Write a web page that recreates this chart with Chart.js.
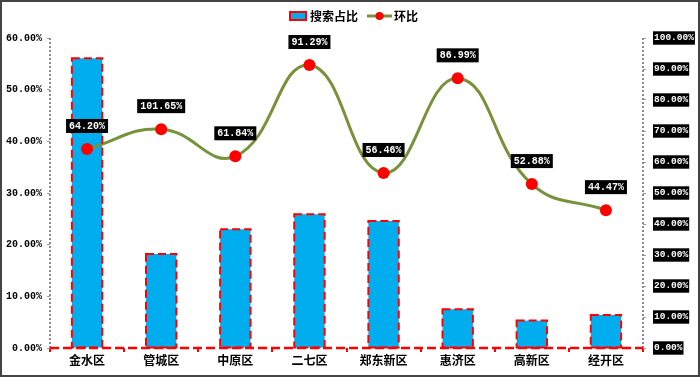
<!DOCTYPE html>
<html>
<head>
<meta charset="utf-8">
<script src="https://cdn.jsdelivr.net/npm/chart.js@4.4.0/dist/chart.umd.min.js"></script>
<style>
html,body{margin:0;padding:0;background:#fff;}
#wrap{width:700px;height:377px;position:relative;}
</style>
</head>
<body>
<div id="wrap"><canvas id="c" width="700" height="377"></canvas></div>
<script>
const categories = ['金水区','管城区','中原区','二七区','郑东新区','惠济区','高新区','经开区'];
const searchShare = [56.1, 18.2, 23.0, 25.9, 24.6, 7.5, 5.3, 6.4];
const momPlotted = [64.2, 70.6, 61.84, 91.29, 56.46, 86.99, 52.88, 44.47];
const momLabels = ['64.20%','101.65%','61.84%','91.29%','56.46%','86.99%','52.88%','44.47%'];
const leftTicks = [0,10,20,30,40,50,60];
const rightTicks = [0,10,20,30,40,50,60,70,80,90,100];

const BAR_FILL = '#00AEEF';
const RED = '#FF0000';
const OLIVE = '#77923A';
const MONO = '"Liberation Mono","DejaVu Sans Mono",monospace';
const CJK = '"Noto Sans CJK SC","Noto Sans",sans-serif';

const customPlugin = {
  id: 'custom',
  beforeDatasetsDraw(chart) {
    const ctx = chart.ctx;
    const a = chart.chartArea;
    ctx.save();
    // dotted grey vertical axes
    ctx.strokeStyle = '#8a8a8a';
    ctx.lineWidth = 2;
    ctx.setLineDash([2,2]);
    ctx.beginPath();
    ctx.moveTo(a.left, a.top); ctx.lineTo(a.left, a.bottom);
    ctx.moveTo(a.right, a.top); ctx.lineTo(a.right, a.bottom);
    ctx.stroke();
    ctx.restore();
  },
  afterDatasetsDraw(chart) {
    const ctx = chart.ctx;
    const a = chart.chartArea;
    // dashed red outlines around bars
    const barMeta = chart.getDatasetMeta(0);
    ctx.save();
    ctx.strokeStyle = RED;
    ctx.lineWidth = 2;
    ctx.setLineDash([8,4]);
    barMeta.data.forEach(el => {
      const {x, y, base, width} = el.getProps(['x','y','base','width'], true);
      ctx.strokeRect(x - width/2, y, width, base - y);
    });
    // dashed red category axis
    ctx.lineWidth = 2.5;
    ctx.setLineDash([9,4]);
    ctx.beginPath();
    ctx.moveTo(a.left, a.bottom); ctx.lineTo(a.right, a.bottom);
    ctx.stroke();
    ctx.restore();
    // point labels
    const lineMeta = chart.getDatasetMeta(1);
    ctx.save();
    ctx.font = 'bold 10px ' + MONO;
    ctx.textAlign = 'center';
    ctx.textBaseline = 'middle';
    lineMeta.data.forEach((el, i) => {
      const txt = momLabels[i];
      const w = ctx.measureText(txt).width + 6;
      const h = 14;
      const cy = el.y - 23;
      ctx.fillStyle = '#000';
      ctx.fillRect(el.x - w/2, cy - h/2, w, h);
      ctx.fillStyle = '#fff';
      ctx.fillText(txt, el.x, cy + 0.5);
    });
    ctx.restore();
  },
  afterDraw(chart) {
    const ctx = chart.ctx;
    ctx.save();
    // legend
    ctx.font = 'bold 12px ' + CJK;
    ctx.textBaseline = 'middle';
    ctx.textAlign = 'left';
    const ly = 16;
    ctx.fillStyle = BAR_FILL;
    ctx.fillRect(290, ly - 4, 16, 8);
    ctx.strokeStyle = RED;
    ctx.lineWidth = 2;
    ctx.strokeRect(290, ly - 4, 16, 8);
    ctx.fillStyle = '#000';
    ctx.fillText('搜索占比', 310, ly);
    ctx.strokeStyle = OLIVE;
    ctx.lineWidth = 3;
    ctx.beginPath(); ctx.moveTo(367, ly); ctx.lineTo(392, ly); ctx.stroke();
    ctx.fillStyle = RED;
    ctx.beginPath(); ctx.arc(379.5, ly, 4, 0, Math.PI*2); ctx.fill();
    ctx.fillStyle = '#000';
    ctx.fillText('环比', 394, ly);
    // outer border
    ctx.strokeStyle = '#444';
    ctx.lineWidth = 2;
    ctx.strokeRect(1, 1, 698, 375);
    ctx.restore();
  }
};

new Chart(document.getElementById('c'), {
  data: {
    labels: categories,
    datasets: [
      {
        type: 'bar',
        label: '搜索占比',
        data: searchShare,
        backgroundColor: BAR_FILL,
        borderWidth: 0,
        categoryPercentage: 1,
        barPercentage: 0.41,
        yAxisID: 'y',
        order: 2
      },
      {
        type: 'line',
        label: '环比',
        data: momPlotted,
        borderColor: OLIVE,
        borderWidth: 3,
        tension: 0.45,
        pointRadius: 6,
        pointHoverRadius: 6,
        pointBackgroundColor: RED,
        pointBorderColor: RED,
        pointBorderWidth: 0,
        yAxisID: 'y1',
        order: 1
      }
    ]
  },
  options: {
    responsive: false,
    animation: false,
    devicePixelRatio: 1,
    layout: { padding: { top: 38, left: 0, right: 0, bottom: 0 } },
    plugins: { legend: { display: false }, tooltip: { enabled: false } },
    scales: {
      x: {
        grid: { display: true, drawOnChartArea: false, drawTicks: true, tickLength: 4, color: RED, lineWidth: 2, offset: true },
        border: { display: false },
        ticks: { color: '#000', font: { family: CJK, size: 12, weight: 'bold' }, padding: 1, maxRotation: 0 },
        afterFit(s) { s.height = 29; }
      },
      y: {
        position: 'left',
        min: 0, max: 60,
        afterBuildTicks(s) { s.ticks = leftTicks.map(v => ({value: v})); },
        grid: { display: true, drawOnChartArea: false, drawTicks: true, tickLength: 3, color: '#999', lineWidth: 1 },
        border: { display: false },
        ticks: { color: '#000', font: { family: MONO, size: 10, weight: 'bold' }, padding: 5, callback: v => v.toFixed(2) + '%' },
        afterFit(s) { s.width = 50; }
      },
      y1: {
        position: 'right',
        min: 0, max: 100,
        afterBuildTicks(s) { s.ticks = rightTicks.map(v => ({value: v})); },
        grid: { display: true, drawOnChartArea: false, drawTicks: true, tickLength: 3, color: '#999', lineWidth: 1 },
        border: { display: false },
        ticks: { color: '#fff', font: { family: MONO, size: 9.5, weight: 'bold' }, padding: 8,
                 showLabelBackdrop: true, backdropColor: '#000', backdropPadding: {top:1,bottom:1,left:1,right:1},
                 callback: v => v.toFixed(2) + '%' },
        afterFit(s) { s.width = 57; }
      }
    }
  },
  plugins: [customPlugin]
});
</script>
</body>
</html>
